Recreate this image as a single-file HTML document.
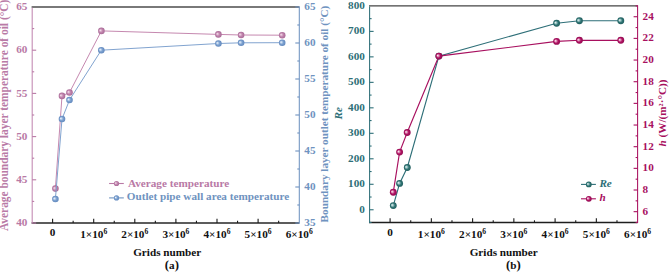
<!DOCTYPE html>
<html><head><meta charset="utf-8"><style>
html,body{margin:0;padding:0;background:#fff;}
svg{display:block;}
text{font-family:"Liberation Serif",serif;font-weight:bold;}
</style></head><body>
<svg width="669" height="272" viewBox="0 0 669 272">
<rect width="669" height="272" fill="#fff"/>
<defs>
<radialGradient id="gp" cx="0.5" cy="0.5" r="0.5" fx="0.3" fy="0.4"><stop offset="0" stop-color="#fbf2f7"/><stop offset="0.22" stop-color="#e2bcd4"/><stop offset="0.55" stop-color="#c184ad"/><stop offset="1" stop-color="#a86a96"/></radialGradient>
<radialGradient id="gb" cx="0.5" cy="0.5" r="0.5" fx="0.3" fy="0.4"><stop offset="0" stop-color="#f6f9fd"/><stop offset="0.22" stop-color="#c4d7ee"/><stop offset="0.55" stop-color="#7ca1d0"/><stop offset="1" stop-color="#6188bd"/></radialGradient>
<radialGradient id="gt" cx="0.5" cy="0.5" r="0.5" fx="0.3" fy="0.4"><stop offset="0" stop-color="#f4fafa"/><stop offset="0.28" stop-color="#9cc4c4"/><stop offset="0.62" stop-color="#2f7473"/><stop offset="1" stop-color="#225e5f"/></radialGradient>
<radialGradient id="gm" cx="0.5" cy="0.5" r="0.5" fx="0.3" fy="0.4"><stop offset="0" stop-color="#fff4f8"/><stop offset="0.25" stop-color="#e49cc0"/><stop offset="0.6" stop-color="#b01262"/><stop offset="1" stop-color="#920c52"/></radialGradient>
</defs>
<line x1="31.60" y1="223.00" x2="299.30" y2="223.00" stroke="#262626" stroke-width="1.4"/>
<line x1="31.60" y1="7.00" x2="299.30" y2="7.00" stroke="#4c4c4c" stroke-width="1.4"/>
<line x1="32.20" y1="7.70" x2="32.20" y2="223.60" stroke="#c48cb4" stroke-width="1.1"/>
<line x1="299.30" y1="6.40" x2="299.30" y2="223.60" stroke="#6f93c0" stroke-width="1.05"/>
<line x1="52.60" y1="223.00" x2="52.60" y2="218.80" stroke="#1a1a1a" stroke-width="1.1"/>
<line x1="73.15" y1="223.00" x2="73.15" y2="220.80" stroke="#1a1a1a" stroke-width="1.1"/>
<line x1="93.70" y1="223.00" x2="93.70" y2="218.80" stroke="#1a1a1a" stroke-width="1.1"/>
<line x1="114.25" y1="223.00" x2="114.25" y2="220.80" stroke="#1a1a1a" stroke-width="1.1"/>
<line x1="134.80" y1="223.00" x2="134.80" y2="218.80" stroke="#1a1a1a" stroke-width="1.1"/>
<line x1="155.35" y1="223.00" x2="155.35" y2="220.80" stroke="#1a1a1a" stroke-width="1.1"/>
<line x1="175.90" y1="223.00" x2="175.90" y2="218.80" stroke="#1a1a1a" stroke-width="1.1"/>
<line x1="196.45" y1="223.00" x2="196.45" y2="220.80" stroke="#1a1a1a" stroke-width="1.1"/>
<line x1="217.00" y1="223.00" x2="217.00" y2="218.80" stroke="#1a1a1a" stroke-width="1.1"/>
<line x1="237.55" y1="223.00" x2="237.55" y2="220.80" stroke="#1a1a1a" stroke-width="1.1"/>
<line x1="258.10" y1="223.00" x2="258.10" y2="218.80" stroke="#1a1a1a" stroke-width="1.1"/>
<line x1="278.65" y1="223.00" x2="278.65" y2="220.80" stroke="#1a1a1a" stroke-width="1.1"/>
<line x1="32.20" y1="223.00" x2="36.20" y2="223.00" stroke="#b97aa6" stroke-width="1.1"/>
<text x="27.40" y="226.10" fill="#b97aa6" text-anchor="end" font-size="11.2" >40</text>
<line x1="32.20" y1="179.80" x2="36.20" y2="179.80" stroke="#b97aa6" stroke-width="1.1"/>
<text x="27.40" y="182.90" fill="#b97aa6" text-anchor="end" font-size="11.2" >45</text>
<line x1="32.20" y1="136.60" x2="36.20" y2="136.60" stroke="#b97aa6" stroke-width="1.1"/>
<text x="27.40" y="139.70" fill="#b97aa6" text-anchor="end" font-size="11.2" >50</text>
<line x1="32.20" y1="93.40" x2="36.20" y2="93.40" stroke="#b97aa6" stroke-width="1.1"/>
<text x="27.40" y="96.50" fill="#b97aa6" text-anchor="end" font-size="11.2" >55</text>
<line x1="32.20" y1="50.20" x2="36.20" y2="50.20" stroke="#b97aa6" stroke-width="1.1"/>
<text x="27.40" y="53.30" fill="#b97aa6" text-anchor="end" font-size="11.2" >60</text>
<text x="27.40" y="10.10" fill="#b97aa6" text-anchor="end" font-size="11.2" >65</text>
<line x1="32.20" y1="201.40" x2="34.20" y2="201.40" stroke="#b97aa6" stroke-width="1.1"/>
<line x1="32.20" y1="158.20" x2="34.20" y2="158.20" stroke="#b97aa6" stroke-width="1.1"/>
<line x1="32.20" y1="115.00" x2="34.20" y2="115.00" stroke="#b97aa6" stroke-width="1.1"/>
<line x1="32.20" y1="71.80" x2="34.20" y2="71.80" stroke="#b97aa6" stroke-width="1.1"/>
<line x1="32.20" y1="28.60" x2="34.20" y2="28.60" stroke="#b97aa6" stroke-width="1.1"/>
<line x1="299.30" y1="223.00" x2="295.30" y2="223.00" stroke="#6f93c0" stroke-width="1.1"/>
<text x="304.30" y="226.10" fill="#6f93c0" text-anchor="start" font-size="11.2" >35</text>
<line x1="299.30" y1="187.00" x2="295.30" y2="187.00" stroke="#6f93c0" stroke-width="1.1"/>
<text x="304.30" y="190.10" fill="#6f93c0" text-anchor="start" font-size="11.2" >40</text>
<line x1="299.30" y1="151.00" x2="295.30" y2="151.00" stroke="#6f93c0" stroke-width="1.1"/>
<text x="304.30" y="154.10" fill="#6f93c0" text-anchor="start" font-size="11.2" >45</text>
<line x1="299.30" y1="115.00" x2="295.30" y2="115.00" stroke="#6f93c0" stroke-width="1.1"/>
<text x="304.30" y="118.10" fill="#6f93c0" text-anchor="start" font-size="11.2" >50</text>
<line x1="299.30" y1="79.00" x2="295.30" y2="79.00" stroke="#6f93c0" stroke-width="1.1"/>
<text x="304.30" y="82.10" fill="#6f93c0" text-anchor="start" font-size="11.2" >55</text>
<line x1="299.30" y1="43.00" x2="295.30" y2="43.00" stroke="#6f93c0" stroke-width="1.1"/>
<text x="304.30" y="46.10" fill="#6f93c0" text-anchor="start" font-size="11.2" >60</text>
<line x1="299.30" y1="7.00" x2="295.30" y2="7.00" stroke="#6f93c0" stroke-width="1.1"/>
<text x="304.30" y="10.10" fill="#6f93c0" text-anchor="start" font-size="11.2" >65</text>
<line x1="299.30" y1="205.00" x2="297.30" y2="205.00" stroke="#6f93c0" stroke-width="1.1"/>
<line x1="299.30" y1="169.00" x2="297.30" y2="169.00" stroke="#6f93c0" stroke-width="1.1"/>
<line x1="299.30" y1="133.00" x2="297.30" y2="133.00" stroke="#6f93c0" stroke-width="1.1"/>
<line x1="299.30" y1="97.00" x2="297.30" y2="97.00" stroke="#6f93c0" stroke-width="1.1"/>
<line x1="299.30" y1="61.00" x2="297.30" y2="61.00" stroke="#6f93c0" stroke-width="1.1"/>
<line x1="299.30" y1="25.00" x2="297.30" y2="25.00" stroke="#6f93c0" stroke-width="1.1"/>
<text x="52.60" y="236.00" fill="#111" text-anchor="middle" font-size="11.2" >0</text>
<text x="93.70" y="238.00" fill="#111" text-anchor="middle" font-size="11.2" >1×10<tspan font-size="7.6" dy="-4.2">6</tspan></text>
<text x="134.80" y="238.00" fill="#111" text-anchor="middle" font-size="11.2" >2×10<tspan font-size="7.6" dy="-4.2">6</tspan></text>
<text x="175.90" y="238.00" fill="#111" text-anchor="middle" font-size="11.2" >3×10<tspan font-size="7.6" dy="-4.2">6</tspan></text>
<text x="217.00" y="238.00" fill="#111" text-anchor="middle" font-size="11.2" >4×10<tspan font-size="7.6" dy="-4.2">6</tspan></text>
<text x="258.10" y="238.00" fill="#111" text-anchor="middle" font-size="11.2" >5×10<tspan font-size="7.6" dy="-4.2">6</tspan></text>
<text x="299.20" y="238.00" fill="#111" text-anchor="middle" font-size="11.2" >6×10<tspan font-size="7.6" dy="-4.2">6</tspan></text>
<polyline points="55.4,188.6 62.0,95.9 69.5,92.5 101.4,30.9 218.4,34.4 241.1,35.0 282.2,35.2" fill="none" stroke="#c282ab" stroke-width="0.95"/>
<circle cx="55.40" cy="188.60" r="3.3" fill="url(#gp)"/>
<circle cx="62.00" cy="95.90" r="3.3" fill="url(#gp)"/>
<circle cx="69.50" cy="92.50" r="3.3" fill="url(#gp)"/>
<circle cx="101.40" cy="30.90" r="3.3" fill="url(#gp)"/>
<circle cx="218.40" cy="34.40" r="3.3" fill="url(#gp)"/>
<circle cx="241.10" cy="35.00" r="3.3" fill="url(#gp)"/>
<circle cx="282.20" cy="35.20" r="3.3" fill="url(#gp)"/>
<polyline points="55.4,199.0 62.0,119.0 69.5,100.0 101.3,50.2 218.4,43.5 241.1,42.8 282.2,42.7" fill="none" stroke="#7a9ecc" stroke-width="0.95"/>
<circle cx="55.40" cy="199.00" r="3.3" fill="url(#gb)"/>
<circle cx="62.00" cy="119.00" r="3.3" fill="url(#gb)"/>
<circle cx="69.50" cy="100.00" r="3.3" fill="url(#gb)"/>
<circle cx="101.30" cy="50.20" r="3.3" fill="url(#gb)"/>
<circle cx="218.40" cy="43.50" r="3.3" fill="url(#gb)"/>
<circle cx="241.10" cy="42.80" r="3.3" fill="url(#gb)"/>
<circle cx="282.20" cy="42.70" r="3.3" fill="url(#gb)"/>
<line x1="109.10" y1="183.50" x2="123.80" y2="183.50" stroke="#b97aa6" stroke-width="1.1"/>
<circle cx="116.50" cy="183.50" r="2.6" fill="url(#gp)"/>
<text x="128.00" y="186.80" fill="#b97aa6" text-anchor="start" font-size="11.2" >Average temperature</text>
<line x1="109.10" y1="197.90" x2="123.80" y2="197.90" stroke="#6f93c0" stroke-width="1.1"/>
<circle cx="116.50" cy="197.90" r="2.6" fill="url(#gb)"/>
<text x="126.80" y="200.30" fill="#6f93c0" text-anchor="start" font-size="11.2" >Outlet pipe wall area temperature</text>
<text x="167.20" y="256.40" fill="#111" text-anchor="middle" font-size="11.2" >Grids number</text>
<text x="171.90" y="268.80" fill="#111" text-anchor="middle" font-size="11.2" ><tspan font-size="12.8">(</tspan>a<tspan font-size="12.8">)</tspan></text>
<text transform="translate(8.1,115.4) rotate(-90)" fill="#b97aa6" text-anchor="middle" font-size="11.42">Average boundary layer temperature of oil (°C)</text>
<text transform="translate(327.8,114.1) rotate(-90)" fill="#6f93c0" text-anchor="middle" font-size="11.2">Boundary layer outlet temperature of oil (°C)</text>
<line x1="369.00" y1="222.50" x2="637.60" y2="222.50" stroke="#1e1e1e" stroke-width="1.4"/>
<line x1="369.00" y1="5.90" x2="637.60" y2="5.90" stroke="#444444" stroke-width="1.4"/>
<line x1="369.60" y1="6.60" x2="369.60" y2="223.10" stroke="#2e6f78" stroke-width="1.05"/>
<line x1="637.60" y1="5.30" x2="637.60" y2="223.10" stroke="#a8105f" stroke-width="1.05"/>
<line x1="390.10" y1="222.50" x2="390.10" y2="218.30" stroke="#1a1a1a" stroke-width="1.1"/>
<line x1="410.73" y1="222.50" x2="410.73" y2="220.30" stroke="#1a1a1a" stroke-width="1.1"/>
<line x1="431.35" y1="222.50" x2="431.35" y2="218.30" stroke="#1a1a1a" stroke-width="1.1"/>
<line x1="451.98" y1="222.50" x2="451.98" y2="220.30" stroke="#1a1a1a" stroke-width="1.1"/>
<line x1="472.60" y1="222.50" x2="472.60" y2="218.30" stroke="#1a1a1a" stroke-width="1.1"/>
<line x1="493.23" y1="222.50" x2="493.23" y2="220.30" stroke="#1a1a1a" stroke-width="1.1"/>
<line x1="513.85" y1="222.50" x2="513.85" y2="218.30" stroke="#1a1a1a" stroke-width="1.1"/>
<line x1="534.48" y1="222.50" x2="534.48" y2="220.30" stroke="#1a1a1a" stroke-width="1.1"/>
<line x1="555.10" y1="222.50" x2="555.10" y2="218.30" stroke="#1a1a1a" stroke-width="1.1"/>
<line x1="575.73" y1="222.50" x2="575.73" y2="220.30" stroke="#1a1a1a" stroke-width="1.1"/>
<line x1="596.35" y1="222.50" x2="596.35" y2="218.30" stroke="#1a1a1a" stroke-width="1.1"/>
<line x1="616.98" y1="222.50" x2="616.98" y2="220.30" stroke="#1a1a1a" stroke-width="1.1"/>
<line x1="369.60" y1="209.76" x2="373.60" y2="209.76" stroke="#2e6f78" stroke-width="1.1"/>
<text x="364.90" y="212.86" fill="#2e6f78" text-anchor="end" font-size="11.2" >0</text>
<line x1="369.60" y1="184.28" x2="373.60" y2="184.28" stroke="#2e6f78" stroke-width="1.1"/>
<text x="364.90" y="187.38" fill="#2e6f78" text-anchor="end" font-size="11.2" >100</text>
<line x1="369.60" y1="158.79" x2="373.60" y2="158.79" stroke="#2e6f78" stroke-width="1.1"/>
<text x="364.90" y="161.89" fill="#2e6f78" text-anchor="end" font-size="11.2" >200</text>
<line x1="369.60" y1="133.31" x2="373.60" y2="133.31" stroke="#2e6f78" stroke-width="1.1"/>
<text x="364.90" y="136.41" fill="#2e6f78" text-anchor="end" font-size="11.2" >300</text>
<line x1="369.60" y1="107.83" x2="373.60" y2="107.83" stroke="#2e6f78" stroke-width="1.1"/>
<text x="364.90" y="110.93" fill="#2e6f78" text-anchor="end" font-size="11.2" >400</text>
<line x1="369.60" y1="82.35" x2="373.60" y2="82.35" stroke="#2e6f78" stroke-width="1.1"/>
<text x="364.90" y="85.45" fill="#2e6f78" text-anchor="end" font-size="11.2" >500</text>
<line x1="369.60" y1="56.86" x2="373.60" y2="56.86" stroke="#2e6f78" stroke-width="1.1"/>
<text x="364.90" y="59.96" fill="#2e6f78" text-anchor="end" font-size="11.2" >600</text>
<line x1="369.60" y1="31.38" x2="373.60" y2="31.38" stroke="#2e6f78" stroke-width="1.1"/>
<text x="364.90" y="34.48" fill="#2e6f78" text-anchor="end" font-size="11.2" >700</text>
<text x="364.90" y="9.00" fill="#2e6f78" text-anchor="end" font-size="11.2" >800</text>
<line x1="369.00" y1="222.50" x2="371.60" y2="222.50" stroke="#2e6f78" stroke-width="1.1"/>
<line x1="369.60" y1="197.02" x2="371.60" y2="197.02" stroke="#2e6f78" stroke-width="1.1"/>
<line x1="369.60" y1="171.54" x2="371.60" y2="171.54" stroke="#2e6f78" stroke-width="1.1"/>
<line x1="369.60" y1="146.05" x2="371.60" y2="146.05" stroke="#2e6f78" stroke-width="1.1"/>
<line x1="369.60" y1="120.57" x2="371.60" y2="120.57" stroke="#2e6f78" stroke-width="1.1"/>
<line x1="369.60" y1="95.09" x2="371.60" y2="95.09" stroke="#2e6f78" stroke-width="1.1"/>
<line x1="369.60" y1="69.61" x2="371.60" y2="69.61" stroke="#2e6f78" stroke-width="1.1"/>
<line x1="369.60" y1="44.12" x2="371.60" y2="44.12" stroke="#2e6f78" stroke-width="1.1"/>
<line x1="369.60" y1="18.64" x2="371.60" y2="18.64" stroke="#2e6f78" stroke-width="1.1"/>
<line x1="637.60" y1="211.67" x2="633.60" y2="211.67" stroke="#a8105f" stroke-width="1.1"/>
<text x="642.60" y="214.77" fill="#a8105f" text-anchor="start" font-size="11.2" >6</text>
<line x1="637.60" y1="190.01" x2="633.60" y2="190.01" stroke="#a8105f" stroke-width="1.1"/>
<text x="642.60" y="193.11" fill="#a8105f" text-anchor="start" font-size="11.2" >8</text>
<line x1="637.60" y1="168.35" x2="633.60" y2="168.35" stroke="#a8105f" stroke-width="1.1"/>
<text x="642.60" y="171.45" fill="#a8105f" text-anchor="start" font-size="11.2" >10</text>
<line x1="637.60" y1="146.69" x2="633.60" y2="146.69" stroke="#a8105f" stroke-width="1.1"/>
<text x="642.60" y="149.79" fill="#a8105f" text-anchor="start" font-size="11.2" >12</text>
<line x1="637.60" y1="125.03" x2="633.60" y2="125.03" stroke="#a8105f" stroke-width="1.1"/>
<text x="642.60" y="128.13" fill="#a8105f" text-anchor="start" font-size="11.2" >14</text>
<line x1="637.60" y1="103.37" x2="633.60" y2="103.37" stroke="#a8105f" stroke-width="1.1"/>
<text x="642.60" y="106.47" fill="#a8105f" text-anchor="start" font-size="11.2" >16</text>
<line x1="637.60" y1="81.71" x2="633.60" y2="81.71" stroke="#a8105f" stroke-width="1.1"/>
<text x="642.60" y="84.81" fill="#a8105f" text-anchor="start" font-size="11.2" >18</text>
<line x1="637.60" y1="60.05" x2="633.60" y2="60.05" stroke="#a8105f" stroke-width="1.1"/>
<text x="642.60" y="63.15" fill="#a8105f" text-anchor="start" font-size="11.2" >20</text>
<line x1="637.60" y1="38.39" x2="633.60" y2="38.39" stroke="#a8105f" stroke-width="1.1"/>
<text x="642.60" y="41.49" fill="#a8105f" text-anchor="start" font-size="11.2" >22</text>
<line x1="637.60" y1="16.73" x2="633.60" y2="16.73" stroke="#a8105f" stroke-width="1.1"/>
<text x="642.60" y="19.83" fill="#a8105f" text-anchor="start" font-size="11.2" >24</text>
<line x1="637.60" y1="222.50" x2="635.60" y2="222.50" stroke="#a8105f" stroke-width="1.1"/>
<line x1="637.60" y1="200.84" x2="635.60" y2="200.84" stroke="#a8105f" stroke-width="1.1"/>
<line x1="637.60" y1="179.18" x2="635.60" y2="179.18" stroke="#a8105f" stroke-width="1.1"/>
<line x1="637.60" y1="157.52" x2="635.60" y2="157.52" stroke="#a8105f" stroke-width="1.1"/>
<line x1="637.60" y1="135.86" x2="635.60" y2="135.86" stroke="#a8105f" stroke-width="1.1"/>
<line x1="637.60" y1="114.20" x2="635.60" y2="114.20" stroke="#a8105f" stroke-width="1.1"/>
<line x1="637.60" y1="92.54" x2="635.60" y2="92.54" stroke="#a8105f" stroke-width="1.1"/>
<line x1="637.60" y1="70.88" x2="635.60" y2="70.88" stroke="#a8105f" stroke-width="1.1"/>
<line x1="637.60" y1="49.22" x2="635.60" y2="49.22" stroke="#a8105f" stroke-width="1.1"/>
<line x1="637.60" y1="27.56" x2="635.60" y2="27.56" stroke="#a8105f" stroke-width="1.1"/>
<line x1="637.60" y1="5.90" x2="635.60" y2="5.90" stroke="#a8105f" stroke-width="1.1"/>
<text x="390.10" y="236.00" fill="#111" text-anchor="middle" font-size="11.2" >0</text>
<text x="431.35" y="238.00" fill="#111" text-anchor="middle" font-size="11.2" >1×10<tspan font-size="7.6" dy="-4.2">6</tspan></text>
<text x="472.60" y="238.00" fill="#111" text-anchor="middle" font-size="11.2" >2×10<tspan font-size="7.6" dy="-4.2">6</tspan></text>
<text x="513.85" y="238.00" fill="#111" text-anchor="middle" font-size="11.2" >3×10<tspan font-size="7.6" dy="-4.2">6</tspan></text>
<text x="555.10" y="238.00" fill="#111" text-anchor="middle" font-size="11.2" >4×10<tspan font-size="7.6" dy="-4.2">6</tspan></text>
<text x="596.35" y="238.00" fill="#111" text-anchor="middle" font-size="11.2" >5×10<tspan font-size="7.6" dy="-4.2">6</tspan></text>
<text x="637.60" y="238.00" fill="#111" text-anchor="middle" font-size="11.2" >6×10<tspan font-size="7.6" dy="-4.2">6</tspan></text>
<polyline points="393.3,205.6 399.6,183.4 407.3,167.5 438.9,56.1 556.6,23.2 579.4,20.7 620.8,20.7" fill="none" stroke="#2e6f78" stroke-width="1.15"/>
<polyline points="393.3,192.2 399.6,152.1 407.2,132.5 438.9,56.1 556.6,41.4 579.4,40.3 620.8,40.3" fill="none" stroke="#a8105f" stroke-width="1.15"/>
<circle cx="393.30" cy="205.60" r="3.45" fill="url(#gt)"/>
<circle cx="399.60" cy="183.40" r="3.45" fill="url(#gt)"/>
<circle cx="407.30" cy="167.50" r="3.45" fill="url(#gt)"/>
<circle cx="438.90" cy="56.10" r="3.45" fill="url(#gt)"/>
<circle cx="556.60" cy="23.20" r="3.45" fill="url(#gt)"/>
<circle cx="579.40" cy="20.70" r="3.45" fill="url(#gt)"/>
<circle cx="620.80" cy="20.70" r="3.45" fill="url(#gt)"/>
<circle cx="393.30" cy="192.20" r="3.45" fill="url(#gm)"/>
<circle cx="399.60" cy="152.10" r="3.45" fill="url(#gm)"/>
<circle cx="407.20" cy="132.50" r="3.45" fill="url(#gm)"/>
<circle cx="438.90" cy="56.10" r="3.45" fill="url(#gm)"/>
<circle cx="556.60" cy="41.40" r="3.45" fill="url(#gm)"/>
<circle cx="579.40" cy="40.30" r="3.45" fill="url(#gm)"/>
<circle cx="620.80" cy="40.30" r="3.45" fill="url(#gm)"/>
<line x1="581.00" y1="184.40" x2="595.90" y2="184.40" stroke="#2e6f78" stroke-width="1.1"/>
<circle cx="588.80" cy="184.40" r="2.9" fill="url(#gt)"/>
<text x="599.40" y="187.40" fill="#2e6f78" text-anchor="start" font-size="11.2" font-style="italic">Re</text>
<line x1="581.00" y1="198.80" x2="595.90" y2="198.80" stroke="#a8105f" stroke-width="1.1"/>
<circle cx="588.80" cy="198.80" r="2.9" fill="url(#gm)"/>
<text x="599.60" y="201.30" fill="#a8105f" text-anchor="start" font-size="11.2" font-style="italic">h</text>
<text x="503.70" y="256.40" fill="#111" text-anchor="middle" font-size="11.2" >Grids number</text>
<text x="513.30" y="268.80" fill="#111" text-anchor="middle" font-size="11.2" ><tspan font-size="12.8">(</tspan>b<tspan font-size="12.8">)</tspan></text>
<text transform="translate(341.6,113.2) rotate(-90)" fill="#2e6f78" text-anchor="middle" font-size="11.2" font-style="italic">Re</text>
<text transform="translate(666.1,113.0) rotate(-90)" fill="#a8105f" text-anchor="middle" font-size="11.2"><tspan font-style="italic">h</tspan> (W/(m<tspan font-size="6.2" dy="-3.4">2</tspan><tspan dy="3.4">·°C))</tspan></text>
</svg>
</body></html>
